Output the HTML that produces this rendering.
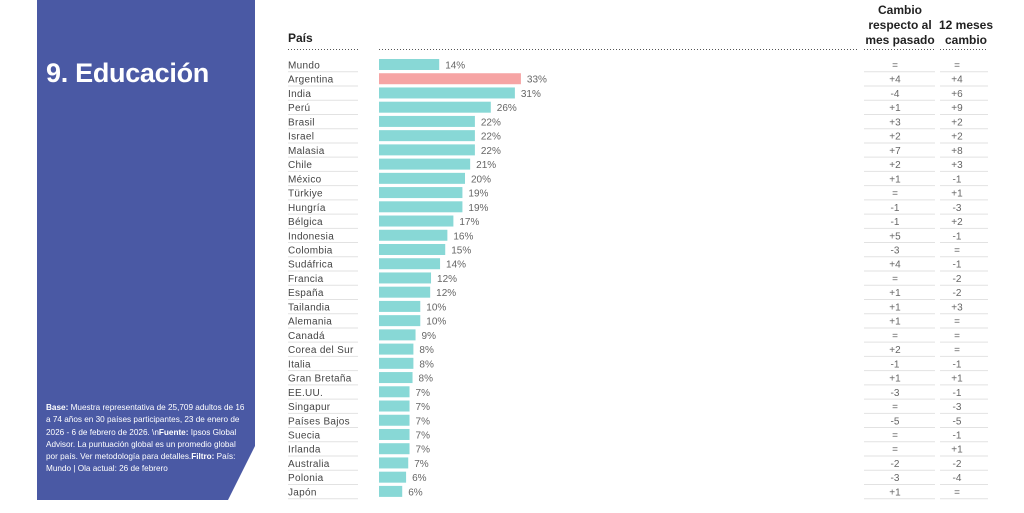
<!DOCTYPE html>
<html><head><meta charset="utf-8"><style>
body{margin:0;width:1024px;height:513px;background:#fff;font-family:"Liberation Sans",sans-serif;position:relative;overflow:hidden}
.abs{position:absolute}
</style></head><body>
<svg class="abs" style="left:0;top:0" width="260" height="513">
<polygon points="37,0 255,0 255,446 228,500 37,500" fill="#4a59a4"/>
</svg>
<div class="abs" style="left:46px;top:58px;color:#fff;font-weight:bold;font-size:27px;letter-spacing:-0.3px">9. Educación</div>
<div class="abs" style="left:46px;top:402px;width:200px;color:#fff;font-size:8.2px;line-height:12.3px">
<b>Base:</b> Muestra representativa de 25,709 adultos de 16 a 74 años en 30 países participantes, 23 de enero de 2026 - 6 de febrero de 2026. \n<b>Fuente:</b> Ipsos Global Advisor. La puntuación global es un promedio global por país. Ver metodología para detalles.<b>Filtro:</b> País: Mundo | Ola actual: 26 de febrero</div>
<div class="abs" style="left:288px;top:31px;font-weight:bold;font-size:12px;color:#222">País</div>
<div class="abs" style="left:860px;top:3px;width:80px;text-align:center;font-weight:bold;font-size:12px;line-height:15px;color:#222">Cambio respecto al mes pasado</div>
<div class="abs" style="left:936px;top:18px;width:60px;text-align:center;font-weight:bold;font-size:12px;line-height:15px;color:#222">12 meses cambio</div>
<svg id="chart" class="abs" style="left:0;top:0" width="1024" height="513"></svg>
<script>
const countries=["Mundo","Argentina","India","Perú","Brasil","Israel","Malasia","Chile","México","Türkiye","Hungría","Bélgica","Indonesia","Colombia","Sudáfrica","Francia","España","Tailandia","Alemania","Canadá","Corea del Sur","Italia","Gran Bretaña","EE.UU.","Singapur","Países Bajos","Suecia","Irlanda","Australia","Polonia","Japón"];
const values=[14,33,31.6,26,22.3,22.3,22.3,21.2,20,19.4,19.4,17.3,15.9,15.4,14.2,12.1,11.9,9.6,9.6,8.5,8,8,7.8,7.1,7.1,7.1,7.1,7.1,6.8,6.3,5.4];
const labels=["14%","33%","31%","26%","22%","22%","22%","21%","20%","19%","19%","17%","16%","15%","14%","12%","12%","10%","10%","9%","8%","8%","8%","7%","7%","7%","7%","7%","7%","6%","6%"];
const monthChange=["=","+4","-4","+1","+3","+2","+7","+2","+1","=","-1","-1","+5","-3","+4","=","+1","+1","+1","=","+2","-1","+1","-3","=","-5","=","=","-2","-3","+1"];
const yearChange=["=","+4","+6","+9","+2","+2","+8","+3","-1","+1","-3","+2","-1","=","-1","-2","-2","+3","=","=","=","-1","+1","-1","-3","-5","-1","+1","-2","-4","="];
const svg=document.getElementById('chart');const NS="http://www.w3.org/2000/svg";
const x0=379,pxPer=4.3,y0=64.5,pitch=14.23;
const xs=v=>x0+v*pxPer, ys=i=>y0+i*pitch;
function mk(t,a){const e=document.createElementNS(NS,t);for(const k in a)e.setAttribute(k,a[k]);svg.appendChild(e);return e;}
[[288,358],[379,859],[864,935],[940,988]].forEach(r=>{const l=mk('line',{x1:r[0],x2:r[1],y1:49.5,y2:49.5,stroke:'#555','stroke-width':1,'stroke-dasharray':'1,2'});

});
countries.forEach((c,i)=>{const y=ys(i);
[[288,358],[864,935],[940,988]].forEach(r=>{const l=mk('line',{x1:r[0],x2:r[1],y1:y+7.3,y2:y+7.3,stroke:'#e2e2e2','stroke-width':1});

});
const t=mk('text',{x:288,y:y+4,'font-size':10,fill:'#444','letter-spacing':'0.3'});t.textContent=c;


const b=mk('rect',{x:x0,y:y-5.5,width:xs(values[i])-x0,height:11,fill:i==1?'#f6a4a4':'#88d8d6'});


const v=mk('text',{x:xs(values[i])+6,y:y+4,'font-size':10,fill:'#666'});v.textContent=labels[i];


const m=mk('text',{x:895,y:y+4,'font-size':10,fill:'#666','text-anchor':'middle'});m.textContent=monthChange[i];


const yc=mk('text',{x:957,y:y+4,'font-size':10,fill:'#666','text-anchor':'middle'});yc.textContent=yearChange[i];


});
</script>
</body></html>
